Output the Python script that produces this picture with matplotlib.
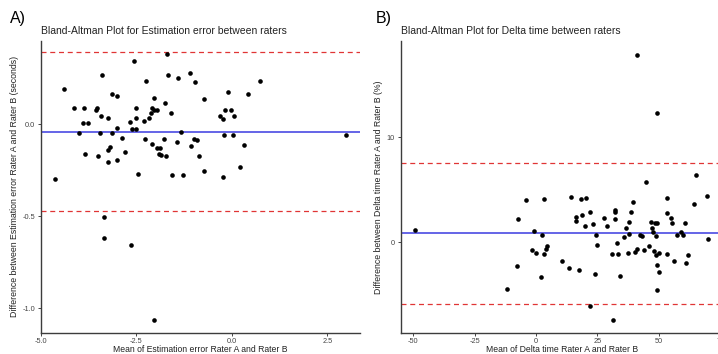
import matplotlib
matplotlib.use("Agg")
import matplotlib.pyplot as plt

plt.rcParams['font.family'] = ['Liberation Sans', 'DejaVu Sans']

# Panel A: estimation error (mean of raters, difference between raters)
a_mean = [-1.685, -2.55, -3.40, -2.24, -1.66, -1.42, -1.09, -0.97, -4.40, -3.14,
          -3.01, -2.03, -1.74, -4.14, -3.88, -3.56, -3.54, -2.51, -2.09, -2.03,
          -1.97, -2.11, -1.60, -3.42, -3.24, -2.17, -2.52, -2.29, -2.66, -3.90,
          -3.78, -3.01, -2.62, -2.51, -4.00, -3.45, -3.14, -1.33, -2.89, -2.28,
          -1.77, -1.44, -0.98, -0.91, -2.09, -1.07, -3.19, -1.97, -1.89, -3.24,
          -2.81, -1.92, -1.86, -1.72, -3.84, -3.50, -0.86, -3.01, -3.24, -4.63,
          -2.45, -1.56, -1.27,
          0.73, -0.11, 0.43, -0.73, -0.19, -0.02, -0.32, -0.23, 0.05, -0.20,
          0.02, 2.98, 0.32, 0.22, -0.72, -0.23,
          -3.35, -3.36, -2.65, -2.04]
a_diff = [0.382, 0.345, 0.267, 0.235, 0.267, 0.251, 0.277, 0.231, 0.191, 0.162,
          0.151, 0.140, 0.113, 0.086, 0.091, 0.078, 0.086, 0.091, 0.087, 0.078,
          0.075, 0.060, 0.062, 0.045, 0.034, 0.034, 0.036, 0.018, 0.013, 0.007,
          0.007, -0.018, -0.024, -0.024, -0.049, -0.046, -0.049, -0.040, -0.075, -0.078,
          -0.082, -0.095, -0.082, -0.086, -0.109, -0.118, -0.124, -0.129, -0.129, -0.138,
          -0.149, -0.160, -0.167, -0.173, -0.164, -0.175, -0.173, -0.193, -0.204, -0.296,
          -0.269, -0.278, -0.275,
          0.236, 0.173, 0.162, 0.136, 0.076, 0.076, 0.045, 0.026, 0.045, -0.060,
          -0.060, -0.060, -0.111, -0.233, -0.255, -0.288,
          -0.506, -0.616, -0.655, -1.062]
a_bias = -0.040
a_upper = 0.391
a_lower = -0.471

# Panel B: delta time (%)
b_mean = [41.0, 49.4, 65.1,
          -49.1, -4.0, 3.06, -7.5, -0.85, 2.52, -1.54, 0.08, 3.33, 4.02, 4.43,
          -7.76, 1.83, -11.7,
          44.9, 14.4, 18.4, 20.4, 53.5, 69.6, 39.4, 64.4, 16.2, 16.2,
          18.5, 22.0, 27.7, 32.3, 32.0, 38.8, 53.5, 55.0, 55.5, 60.7,
          20.1, 23.3, 28.8, 32.1, 37.8, 46.8, 48.5, 49.4, 36.7, 47.2,
          47.5, 24.5, 37.9, 42.5, 43.3, 48.9, 57.4, 59.0, 59.8, 70.1,
          36.0, 32.9, 25.0, 46.0, 41.0, 40.3, 43.9, 37.6, 31.1, 33.5,
          48.0, 48.9, 50.1, 53.2, 61.7, 10.4, 13.5, 17.4, 24.1, 34.2,
          49.1, 49.9, 56.2, 60.9, 49.1, 21.9, 31.5]
b_diff = [17.88, 12.32, 6.42,
          1.14, 4.04, 4.07, 2.19, 1.08, 0.67, -0.79, -1.08, -1.17, -0.70, -0.38,
          -2.29, -3.33, -4.48,
          5.71, 4.29, 4.10, 4.16, 4.23, 4.42, 3.81, 3.59, 2.38, 1.97,
          2.57, 2.83, 2.29, 3.11, 2.90, 2.92, 2.76, 2.26, 1.81, 1.81,
          1.56, 1.69, 1.52, 2.16, 1.94, 1.90, 1.81, 1.81, 1.33, 1.33,
          0.95, 0.70, 0.73, 0.70, 0.54, 0.57, 0.64, 0.95, 0.64, 0.26,
          0.48, -0.10, -0.31, -0.41, -0.63, -0.98, -0.79, -1.05, -1.11, -1.17,
          -0.89, -1.20, -1.08, -1.17, -1.24, -1.84, -2.48, -2.70, -3.05, -3.20,
          -2.15, -2.82, -1.84, -2.00, -4.53, -6.06, -7.39]
b_bias = 0.86
b_upper = 7.52
b_lower = -5.87

W, H = 718, 354
fig = plt.figure(figsize=(W / 100, H / 100), dpi=100)

axA = fig.add_axes([41 / W, 1 - 333 / H, (360 - 41) / W, (333 - 40.7) / H])
axB = fig.add_axes([400.7 / W, 1 - 333 / H, (723 - 400.7) / W, (333 - 40.7) / H])

panels = [
    (axA, a_mean, a_diff, a_bias, a_upper, a_lower, (-5.0, 3.36), (-1.134, 0.454),
     [-5.0, -2.5, 0.0, 2.5], ['-5.0', '-2.5', '0.0', '2.5'],
     [-1.0, -0.5, 0.0], ['-1.0', '-0.5', '0.0'],
     'Bland-Altman Plot for Estimation error between raters',
     'Mean of Estimation error Rater A and Rater B',
     'Difference between Estimation error Rater A and Rater B (seconds)'),
    (axB, b_mean, b_diff, b_bias, b_upper, b_lower, (-55.1, 76.1), (-8.66, 19.2),
     [-50, -25, 0, 25, 50, 75], ['-50', '-25', '0', '25', '50', '75'],
     [0, 10], ['0', '10'],
     'Bland-Altman Plot for Delta time between raters',
     'Mean of Delta time Rater A and Rater B',
     'Difference between Delta time Rater A and Rater B (%)'),
]

for ax, xs, ys, bias, up, lo, xl, yl, xt, xtl, yt, ytl, title, xlab, ylab in panels:
    ax.scatter(xs, ys, s=11, color='black', linewidths=0, zorder=3)
    ax.axhline(bias, color='#3a3ae0', lw=1.1, zorder=2)
    ax.axhline(up, color='#e03535', lw=0.9, ls=(0, (4, 3)), zorder=2)
    ax.axhline(lo, color='#e03535', lw=0.9, ls=(0, (4, 3)), zorder=2)
    ax.set_xlim(*xl)
    ax.set_ylim(*yl)
    ax.set_xticks(xt)
    ax.set_xticklabels(xtl)
    ax.set_yticks(yt)
    ax.set_yticklabels(ytl)
    for s in ['top', 'right']:
        ax.spines[s].set_visible(False)
    for s in ['left', 'bottom']:
        ax.spines[s].set_color('#3c3c3c')
        ax.spines[s].set_linewidth(1.0)
    ax.tick_params(labelsize=5.3, colors='#444444', length=2.5, width=0.7, pad=1.5)
    ax.tick_params(axis='x', pad=1.0)
    ax.set_title(title, fontsize=7.5, loc='left', pad=5, color='#222222')
    ax.set_xlabel(xlab, fontsize=6.2, labelpad=0.3, color='#222222')
    ax.set_ylabel(ylab, fontsize=6.3, labelpad=3, color='#222222')

fig.text(10 / W, 1 - 18 / H, 'A)', fontsize=11.5, va='center', ha='left')
fig.text(376 / W, 1 - 18 / H, 'B)', fontsize=11.5, va='center', ha='left')

fig.savefig('out.png', dpi=100)
